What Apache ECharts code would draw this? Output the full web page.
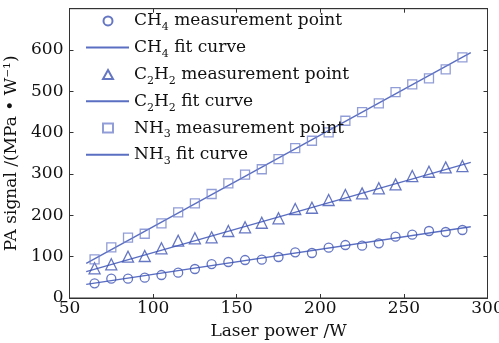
<!DOCTYPE html>
<html>
<head>
<meta charset="utf-8">
<script src="https://cdn.jsdelivr.net/npm/echarts@6/dist/echarts.min.js"></script>
<style>html,body{margin:0;padding:0;background:#fff;}#c{width:499px;height:343px;}</style>
</head>
<body>
<div id="c"></div>
<script>
// ---- data ----
const power = [65, 75, 85, 95, 105, 115, 125, 135, 145, 155, 165, 175, 185, 195, 205, 215, 225, 235, 245, 255, 265, 275, 285];
const ch4Points = [35.5, 46.8, 46.8, 49.2, 55.6, 61.3, 70.2, 82.2, 87.1, 91.9, 92.7, 99.2, 110.5, 108.9, 121.8, 128.2, 126.6, 132.2, 148.4, 153.2, 162.1, 159.7, 164.5];
const c2h2Points = [71.8, 81.5, 99.9, 101.6, 120.2, 138.6, 144.4, 146.8, 162.1, 171.0, 182.1, 192.8, 215.3, 218.4, 237.1, 249.2, 253.2, 265.4, 275.0, 295.1, 305.5, 316.1, 319.3];
const nh3Points = [93.6, 122.6, 145.9, 155.5, 180.7, 207.3, 229.0, 251.6, 277.5, 298.5, 311.5, 335.8, 362.8, 380.5, 400.8, 428.9, 449.9, 470.9, 498.3, 516.9, 531.4, 553.2, 582.2];
const fitX = [60, 290];
const ch4Fit = [33.1, 172.5];
const c2h2Fit = [63.7, 328.0];
const nh3Fit = [83.9, 593.5];
const pointNames = ['CH4 measurement point', 'C2H2 measurement point', 'NH3 measurement point'];
const fitNames = ['CH4 fit curve', 'C2H2 fit curve', 'NH3 fit curve'];
const legendRich = {
  'CH4 measurement point': '{n|CH}{s|4}{n| measurement point}',
  'CH4 fit curve': '{n|CH}{s|4}{n| fit curve}',
  'C2H2 measurement point': '{n|C}{s|2}{n|H}{s|2}{n| measurement point}',
  'C2H2 fit curve': '{n|C}{s|2}{n|H}{s|2}{n| fit curve}',
  'NH3 measurement point': '{n|NH}{s|3}{n| measurement point}',
  'NH3 fit curve': '{n|NH}{s|3}{n| fit curve}'
};
const xTitle = 'Laser power /W';
const yTitle = 'PA signal /(MPa • W⁻¹)';

// ---- chart ----
const FONT = 'DejaVu Serif';
const markColor = '#3f54b4';
const sqColor = '#7585cc';
const lineColor = '#5a6ec2';
const clear = 'rgba(255,255,255,0)';
const pairs = a => power.map((x, i) => [x, a[i]]);
const fitPairs = a => fitX.map((x, i) => [x, a[i]]);
const scatter = (name, sym, data, col, size) => ({
  name, type: 'scatter', symbol: sym, symbolSize: size, symbolKeepAspect: true, data,
  itemStyle: {color: clear, borderColor: col, borderWidth: 1.3},
  z: 3
});
const fit = (name, data) => ({
  name, type: 'line', data, symbol: 'none', showSymbol: false,
  lineStyle: {color: lineColor, width: 1.4},
  itemStyle: {color: clear, borderColor: clear, opacity: 0}, z: 2
});
const axisBase = {
  type: 'value',
  axisLine: {show: true, onZero: false, lineStyle: {color: '#333', width: 1}},
  axisTick: {show: true, inside: true, length: 4, lineStyle: {color: '#333'}},
  splitLine: {show: false}
};
const richStyle = {
  g: {width: 16},
  n: {fontFamily: FONT, fontSize: 17, lineHeight: 24, color: '#111'},
  s: {fontFamily: FONT, fontSize: 11, lineHeight: 6, verticalAlign: 'bottom', color: '#111'}
};
const ROW = 26.7;
const chart = echarts.init(document.getElementById('c'), null, {renderer: 'canvas'});
chart.setOption({
  backgroundColor: '#fff',
  animation: false,
  textStyle: {fontFamily: FONT},
  grid: {left: 69.5, right: 11.5, top: 8.7, bottom: 45, show: true, containLabel: false,
    outerBoundsMode: 'none',
    borderColor: '#333', borderWidth: 1, backgroundColor: 'transparent'},
  legend: [{
    orient: 'vertical', left: 102, top: 12.4, padding: 0,
    itemWidth: 10, itemHeight: 9, itemGap: 6.4 + ROW, symbolKeepAspect: true,
    data: pointNames,
    formatter: n => '{g| }' + legendRich[n],
    textStyle: {color: '#111', rich: richStyle}
  }, {
    orient: 'vertical', left: 85, top: 12.4 + ROW, padding: 0,
    itemWidth: 43, itemHeight: 9, itemGap: 6.4 + ROW,
    data: fitNames.map(n => ({name: n, itemStyle: {opacity: 0}})),
    formatter: n => legendRich[n],
    textStyle: {color: '#111', rich: richStyle}
  }],
  xAxis: [Object.assign({}, axisBase, {
    min: 50, max: 300, interval: 50,
    name: xTitle, nameLocation: 'middle', nameGap: 25,
    nameTextStyle: {fontFamily: FONT, fontSize: 17, color: '#111'},
    axisLabel: {fontFamily: FONT, fontSize: 17, color: '#111', margin: 2}
  }), Object.assign({}, axisBase, {
    min: 50, max: 300, interval: 50, position: 'top',
    axisLabel: {show: false}
  })],
  yAxis: [Object.assign({}, axisBase, {
    min: 0, max: 700, interval: 100,
    name: yTitle, nameLocation: 'middle', nameGap: 46,
    nameTextStyle: {fontFamily: FONT, fontSize: 17, color: '#111'},
    axisLabel: {fontFamily: FONT, fontSize: 17, color: '#111', margin: 6,
      formatter: v => (v === 700 ? '' : String(v))}
  }), Object.assign({}, axisBase, {
    min: 0, max: 700, interval: 100, position: 'right',
    axisLabel: {show: false}
  })],
  series: [
    scatter('CH4 measurement point', 'circle', pairs(ch4Points), markColor, 9),
    fit('CH4 fit curve', fitPairs(ch4Fit)),
    scatter('C2H2 measurement point', 'triangle', pairs(c2h2Points), markColor, 11),
    fit('C2H2 fit curve', fitPairs(c2h2Fit)),
    scatter('NH3 measurement point', 'rect', pairs(nh3Points), sqColor, 9),
    fit('NH3 fit curve', fitPairs(nh3Fit))
  ]
});
</script>
</body>
</html>
